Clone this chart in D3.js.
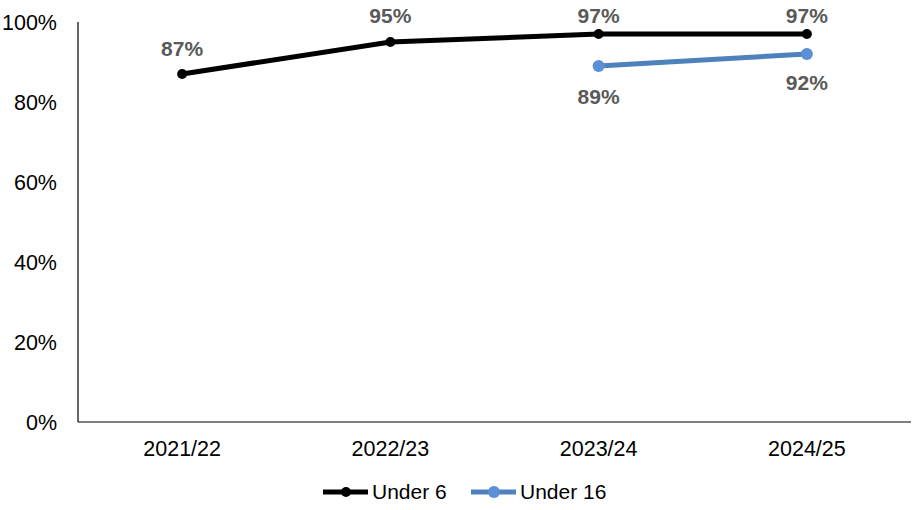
<!DOCTYPE html>
<html lang="en">
<head>
<meta charset="UTF-8">
<title>Chart</title>
<script src="https://cdn.jsdelivr.net/npm/d3@7"></script>
<style>
    body{margin:0;background:#fff;}
    svg text{font-family:"Liberation Sans",Arial,sans-serif;}
    .axis path,.axis line{display:none;}
    .axis text{font-size:21.5px;fill:#000;}
    .dlabel{font-size:21px;font-weight:bold;fill:#595959;text-anchor:middle;}
</style>
</head>
<body>
<script>
    var years = ["2021/22","2022/23","2023/24","2024/25"];
    var under6 = [87,95,97,97];
    var under16 = [null,null,89,92];
    var yTicks = [0,20,40,60,80,100];

    var width = 921, height = 510;
    var padding = {top:22,right:10,bottom:88,left:78};

    var svg = d3.select("body").append("svg")
        .attr("width",width)
        .attr("height",height);

    var xScale = d3.scaleBand()
        .domain(years)
        .range([padding.left, width - padding.right]);
    var yScale = d3.scaleLinear()
        .domain([0,100])
        .range([height - padding.bottom, padding.top]);

    // y axis labels
    svg.append("g")
        .attr("class","axis")
        .attr("transform","translate(" + (padding.left - 18) + ",0)")
        .call(d3.axisLeft(yScale).tickValues(yTicks).tickSize(0).tickFormat(function(d){return d + "%";}))
        .selectAll("text").attr("dy","0.35em");

    // x axis labels
    svg.append("g")
        .attr("class","axis")
        .attr("transform","translate(0," + (height - padding.bottom + 16) + ")")
        .call(d3.axisBottom(xScale).tickSize(0))
        .selectAll("text").attr("dy","0.71em");

    // axis lines
    svg.append("line")
        .attr("x1",padding.left).attr("x2",padding.left)
        .attr("y1",padding.top).attr("y2",yScale(0))
        .attr("stroke","#000").attr("stroke-width",1.2);
    svg.append("line")
        .attr("x1",padding.left).attr("x2",width - padding.right)
        .attr("y1",yScale(0)).attr("y2",yScale(0))
        .attr("stroke","#000").attr("stroke-width",1.2);

    function cx(i){ return xScale(years[i]) + xScale.bandwidth()/2; }

    var line = d3.line()
        .defined(function(d){return d !== null;})
        .x(function(d,i){return cx(i);})
        .y(function(d){return yScale(d);});

    var series = [
        {name:"Under 6", values:under6, stroke:"#000", fill:"#000", r:5, labelDy:[-18,-19,-11,-11]},
        {name:"Under 16", values:under16, stroke:"#4f81bd", fill:"#5b8fd6", r:6, labelDy:[0,0,38,36]}
    ];

    series.forEach(function(s){
        svg.append("path")
            .attr("d",line(s.values))
            .attr("fill","none")
            .attr("stroke",s.stroke)
            .attr("stroke-width",5);
        s.values.forEach(function(v,i){
            if(v === null) return;
            svg.append("circle")
                .attr("cx",cx(i)).attr("cy",yScale(v))
                .attr("r",s.r).attr("fill",s.fill);
            svg.append("text")
                .attr("class","dlabel")
                .attr("x",cx(i)).attr("y",yScale(v) + s.labelDy[i])
                .text(v + "%");
        });
    });

    // legend
    var legendX = [323,471];
    series.forEach(function(s,k){
        var g = svg.append("g").attr("transform","translate(" + legendX[k] + ",492)");
        g.append("line").attr("x1",0).attr("x2",45).attr("y1",0).attr("y2",0)
            .attr("stroke",s.stroke).attr("stroke-width",5);
        g.append("circle").attr("cx",23).attr("cy",0).attr("r",s.r).attr("fill",s.fill);
        g.append("text").attr("x",49).attr("y",0).attr("dy","0.35em")
            .style("font-size","21px").text(s.name);
    });
</script>
</body>
</html>
